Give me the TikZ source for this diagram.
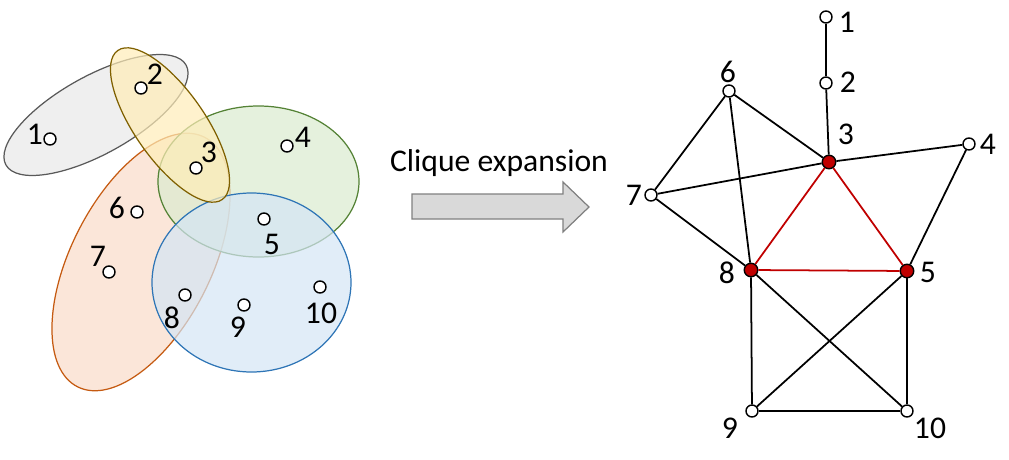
\documentclass[tikz,border=0pt]{standalone}
\usepackage{fontspec}
\setmainfont{Carlito}
\usepackage{xcolor}
\usepackage{tikz}
\usetikzlibrary{positioning, calc}

\definecolor{grayline}{HTML}{595959}
\definecolor{grayfill}{HTML}{E8E8E8}
\definecolor{yellowline}{HTML}{7F6000}
\definecolor{yellowfill}{HTML}{FFEDB8}
\definecolor{greenline}{HTML}{548235}
\definecolor{greenfill}{HTML}{DAEBCF}
\definecolor{blueline}{HTML}{2E75B6}
\definecolor{bluefill}{HTML}{D4E5F5}
\definecolor{orangeline}{HTML}{C55A11}
\definecolor{orangefill}{HTML}{F9DCC9}
\definecolor{cliquered}{HTML}{C00000}
\definecolor{arrowfill}{HTML}{D9D9D9}
\definecolor{arrowline}{HTML}{808080}

\begin{document}
\begin{tikzpicture}[x=0.02cm, y=-0.02cm, every node/.style={font=\fontsize{18}{21}\selectfont}]

\tikzstyle{vtx}=[circle, draw=black, fill=white, line width=0.8pt, inner sep=0pt, minimum size=2.4mm]
\tikzstyle{hub}=[vtx, fill=cliquered, minimum size=2.7mm]
\tikzstyle{hedge}=[line width=0.7pt, fill opacity=0.7]
\tikzstyle{num}=[inner sep=0pt]
\tikzstyle{link}=[line width=1pt]

\useasboundingbox (0,0) rectangle (1009,460);

%% hypergraph
\draw[hedge, draw=grayline, fill=grayfill, rotate around={29:(96,115)}] (96,115) ellipse (103 and 39);
\draw[hedge, draw=orangeline, fill=orangefill, rotate around={63:(141,262)}] (141,262) ellipse (140 and 70);
\draw[hedge, draw=greenline, fill=greenfill] (258.5,181.5) ellipse (100.5 and 75.5);
\draw[hedge, draw=blueline, fill=bluefill] (251.5,282.5) ellipse (99.5 and 89.5);
\draw[hedge, draw=yellowline, fill=yellowfill, rotate around={-55:(170,125)}] (170,125) ellipse (91 and 35);

\node (l1) at (50,139) [vtx] {};
\node (l2) at (141,88) [vtx] {};
\node (l3) at (196,168) [vtx] {};
\node (l4) at (287,146) [vtx] {};
\node (l5) at (264,219) [vtx] {};
\node (l6) at (137,212) [vtx] {};
\node (l7) at (109,272) [vtx] {};
\node (l8) at (185,295) [vtx] {};
\node (l9) at (244,305) [vtx] {};
\node (l10) at (320,287) [vtx] {};

\node (ll1) at (35,134) [num] {1};
\node (ll2) at (155,74) [num] {2};
\node (ll3) at (209,152) [num] {3};
\node (ll4) at (303,137) [num] {4};
\node (ll5) at (272,244) [num] {5};
\node (ll6) at (117,208) [num] {6};
\node (ll7) at (98,256) [num] {7};
\node (ll8) at (172,318) [num] {8};
\node (ll9) at (238,327) [num] {9};
\node (ll10) at (321,313) [num] {10};

%% arrow
\node (cap) at (499,163) {Clique expansion};
\draw[line width=0.7pt, draw=arrowline, fill=arrowfill]
  (412,194) -- (563,194) -- (563,182) -- (589,207) -- (563,232) -- (563,219) -- (412,219) -- cycle;

%% clique graph
\node (r1) at (826,17) [vtx] {};
\node (r2) at (826,83) [vtx] {};
\node (r3) at (829,162) [hub] {};
\node (r4) at (969,144) [vtx] {};
\node (r5) at (907,271) [hub] {};
\node (r6) at (729,91) [vtx] {};
\node (r7) at (651,195) [vtx] {};
\node (r8) at (751,270) [hub] {};
\node (r9) at (752,411) [vtx] {};
\node (r10) at (907,411) [vtx] {};

\draw[link] (r1) -- (r2);
\draw[link] (r2) -- (r3);
\draw[link] (r3) -- (r4);
\draw[link] (r3) -- (r6);
\draw[link] (r3) -- (r7);
\draw[link] (r6) -- (r7);
\draw[link] (r6) -- (r8);
\draw[link] (r7) -- (r8);
\draw[link] (r4) -- (r5);
\draw[link] (r8) -- (r9);
\draw[link] (r8) -- (r10);
\draw[link] (r5) -- (r9);
\draw[link] (r5) -- (r10);
\draw[link] (r9) -- (r10);

\draw[link, cliquered] (r3) -- (r8);
\draw[link, cliquered] (r3) -- (r5);
\draw[link, cliquered] (r8) -- (r5);

\node (rl1) at (847,22) [num] {1};
\node (rl2) at (848,82) [num] {2};
\node (rl3) at (846,134) [num] {3};
\node (rl4) at (988,144) [num] {4};
\node (rl5) at (928,272) [num] {5};
\node (rl6) at (728,72) [num] {6};
\node (rl7) at (634,195) [num] {7};
\node (rl8) at (727,273) [num] {8};
\node (rl9) at (730,428) [num] {9};
\node (rl10) at (930,428) [num] {10};

\end{tikzpicture}
\end{document}
